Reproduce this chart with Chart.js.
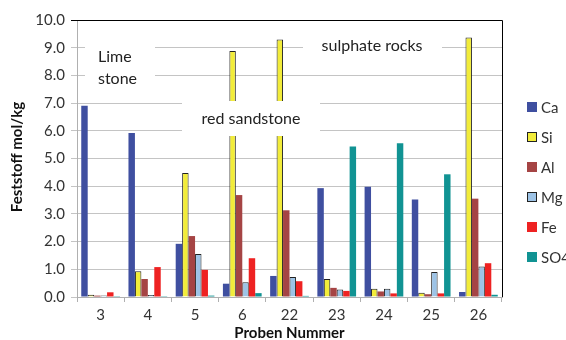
<!DOCTYPE html>
<html><head><meta charset="utf-8">
<script src="https://cdn.jsdelivr.net/npm/chart.js@4/dist/chart.umd.min.js"></script>
<style>html,body{margin:0;padding:0;background:#fff}canvas{display:block}</style>
</head><body>
<canvas id="c" width="566" height="340"></canvas>
<script>
const categories = ['3','4','5','6','22','23','24','25','26'];
const seriesNames = ['Ca','Si','Al','Mg','Fe','SO4'];
const Ca  = [6.90, 5.92, 1.92, 0.48, 0.76, 3.93, 3.98, 3.52, 0.18];
const Si  = [0.08, 0.93, 4.48, 8.88, 9.30, 0.65, 0.30, 0.15, 9.37];
const Al  = [0.05, 0.65, 2.20, 3.68, 3.13, 0.33, 0.20, 0.10, 3.55];
const Mg  = [0.05, 0.07, 1.55, 0.53, 0.72, 0.27, 0.30, 0.90, 1.10];
const Fe  = [0.17, 1.08, 0.98, 1.40, 0.57, 0.22, 0.13, 0.13, 1.22];
const SO4 = [0.03, 0.03, 0.05, 0.14, 0.04, 5.43, 5.55, 4.43, 0.08];
const yTicks = [0,1,2,3,4,5,6,7,8,9,10];
const annotations = [
  {lines:['Lime','stone'], box:[85,36,155,92], tx:98, ty:[57,79], align:'left'},
  {lines:['red sandstone'], box:[182,101,320,136], tx:251, ty:[119], align:'center'},
  {lines:['sulphate rocks'], box:[303,32,442,62], tx:372, ty:[46], align:'center'}
];
const colors = ['#3F4FA0','#F2EC3A','#A54444','#9DC3E6','#EE2222','#119393'];
const borders = [null,'#222',null,'#222',null,null];
const values = [Ca,Si,Al,Mg,Fe,SO4];
const FONT = 'Lato, "Open Sans", sans-serif';

const datasets = seriesNames.map((n,i)=>({
  label:n, data:values[i], backgroundColor:colors[i],
  borderColor: borders[i]||colors[i], borderWidth: borders[i]?1:0,
  categoryPercentage:0.82, barPercentage:1.0
}));

const extras = {
  id:'extras',
  afterDatasetsDraw(chart){
    const ctx = chart.ctx, a = chart.chartArea;
    ctx.save();
    ctx.strokeStyle='#000'; ctx.lineWidth=1;
    ctx.beginPath();
    ctx.moveTo(a.left, a.top+0.5); ctx.lineTo(a.right+0.5, a.top+0.5);
    ctx.lineTo(a.right+0.5, a.bottom); ctx.stroke();
    annotations.forEach(an=>{
      ctx.fillStyle='#fff';
      ctx.fillRect(an.box[0],an.box[1],an.box[2]-an.box[0],an.box[3]-an.box[1]);
      ctx.fillStyle='#222'; ctx.font='16px '+FONT; ctx.textAlign=an.align; ctx.textBaseline='middle';
      an.lines.forEach((l,k)=>ctx.fillText(l, an.tx, an.ty[k]));
    });
    chart.data.datasets.forEach((d,i)=>{
      const y = 107 + 30*i;
      ctx.fillStyle=d.backgroundColor;
      ctx.fillRect(527, y-5, 10, 10);
      if (d.borderWidth){ ctx.strokeStyle='#222'; ctx.strokeRect(527.5, y-4.5, 9, 9); }
      ctx.fillStyle='#333'; ctx.font='15px '+FONT; ctx.textAlign='left'; ctx.textBaseline='middle';
      ctx.fillText(d.label, 541, y+1);
    });
    ctx.fillStyle='#111'; ctx.font='bold 15px '+FONT; ctx.textAlign='center'; ctx.textBaseline='middle';
    ctx.fillText('Proben Nummer', (a.left+a.right)/2, 333);
    ctx.translate(17, 157);
    ctx.rotate(-Math.PI/2);
    ctx.fillText('Feststoff mol/kg', 0, 0);
    ctx.restore();
  }
};

new Chart(document.getElementById('c'), {
  type:'bar',
  data:{labels:categories, datasets},
  options:{
    responsive:false, animation:false, devicePixelRatio:1,
    layout:{padding:{left:0,right:64,top:20,bottom:0}},
    plugins:{legend:{display:false}, tooltip:{enabled:false}},
    scales:{
      x:{
        grid:{offset:true, drawOnChartArea:false, drawTicks:true, tickLength:5, color:'#b0b0b0'},
        border:{color:'#b0b0b0'},
        ticks:{color:'#333', font:{family:FONT, size:15}, padding:4},
        afterFit(s){ s.height = 43; }
      },
      y:{
        min:0, max:10,
        afterBuildTicks(s){ s.ticks = yTicks.map(v=>({value:v})); },
        grid:{color:(c)=> c.tick && c.tick.value===10 ? '#000' : '#c4c4c4', tickLength:6, drawTicks:true},
        border:{color:'#b0b0b0'},
        ticks:{color:'#333', font:{family:FONT, size:15}, padding:6, callback:(v)=>Number(v).toFixed(1)},
        afterFit(s){ s.width = 77; }
      }
    }
  },
  plugins:[extras]
});
</script>
</body></html>
